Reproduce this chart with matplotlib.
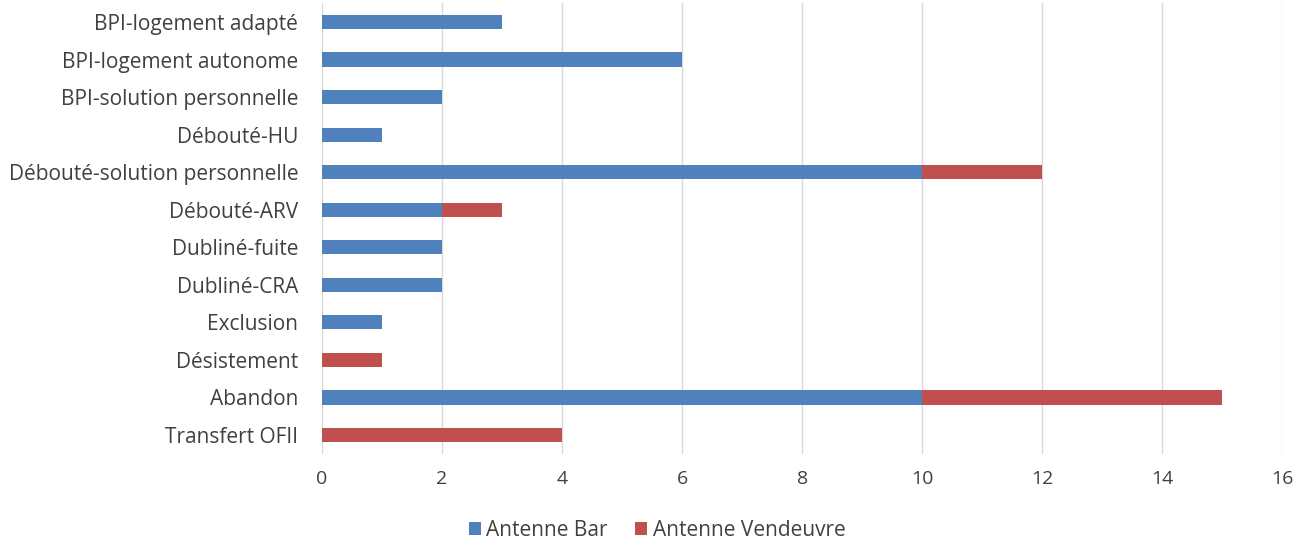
import matplotlib.pyplot as plt
import numpy as np

categories = ['BPI-logement adapté', 'BPI-logement autonome', 'BPI-solution personnelle',
              'Débouté-HU', 'Débouté-solution personnelle', 'Débouté-ARV',
              'Dubliné-fuite', 'Dubliné-CRA', 'Exclusion', 'Désistement',
              'Abandon', 'Transfert OFII']
antenne_bar = [3, 6, 2, 1, 10, 2, 2, 2, 1, 0, 10, 0]
antenne_vendeuvre = [0, 0, 0, 0, 2, 1, 0, 0, 0, 1, 5, 4]

plt.rcParams['font.family'] = ['Open Sans', 'DejaVu Sans']

fig = plt.figure(figsize=(13.14, 5.54), dpi=100)
ax = fig.add_axes([0.245, 0.181, 0.731, 0.813])

y = np.arange(len(categories))[::-1]
ax.barh(y, antenne_bar, height=0.38, color='#4F81BD', label='Antenne Bar', zorder=3)
ax.barh(y, antenne_vendeuvre, left=antenne_bar, height=0.38, color='#C0504D',
        label='Antenne Vendeuvre', zorder=3)

ax.set_yticks(y)
ax.set_yticklabels(categories, fontsize=15, color='#404040')
ax.set_ylim(-0.5, len(categories) - 0.5)
ax.set_xlim(0, 16)
ax.set_xticks(range(0, 17, 2))
ax.tick_params(axis='x', labelsize=14, colors='#404040', length=0, pad=12)
ax.tick_params(axis='y', length=0, pad=17)
ax.grid(axis='x', color='#D9D9D9', linewidth=1, zorder=0)
for s in ax.spines.values():
    s.set_visible(False)

fig.legend(loc='lower center', bbox_to_anchor=(0.5, -0.01), ncol=2, frameon=False,
           fontsize=15, handlelength=0.6, handleheight=0.6, columnspacing=1.3,
           handletextpad=0.25, labelcolor='#404040')

fig.savefig('out.png', dpi=100)
